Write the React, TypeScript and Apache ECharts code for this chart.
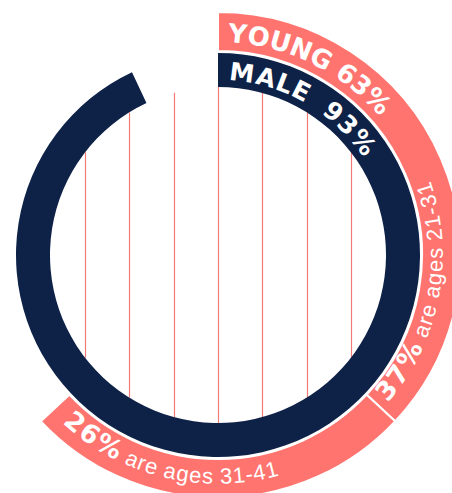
import React, { useEffect, useRef } from 'react';
import * as echarts from 'echarts';

// ---- data ----
const youngCategories = ['are ages 21-31', 'are ages 31-41'];
const youngValues = [37, 26];
const youngTotal = 63;
const maleValue = 93;
const gridLineOffsets = [-133, -89, -44, 0, 44, 89, 133];

// ---- style ----
const CORAL = '#FF746F';
const NAVY = '#0E2248';
const LINE = '#F47A78';
const CX = 218;
const CY = 255;
const R_INNER = 168;

type Seg = { text: string; size: number; bold: boolean; family: string };

let measureCtx: CanvasRenderingContext2D | null = null;
function fontOf(s: Seg) {
  return `${s.bold ? 'bold ' : ''}${s.size}px "${s.family}"`;
}
function measure(ch: string, s: Seg) {
  if (!measureCtx) measureCtx = document.createElement('canvas').getContext('2d');
  if (!measureCtx) return s.size * 0.6;
  measureCtx.font = fontOf(s);
  return measureCtx.measureText(ch).width;
}

function arcText(segs: Seg[], startDeg: number, endDeg: number, baseR: number, inward: boolean) {
  const chars: { ch: string; w: number; seg: Seg }[] = [];
  segs.forEach((seg) => {
    for (const ch of seg.text) chars.push({ ch, w: measure(ch, seg), seg });
  });
  const total = chars.reduce((a, c) => a + c.w, 0);
  let cum = 0;
  const els: any[] = [];
  chars.forEach((c) => {
    const frac = (cum + c.w / 2) / total;
    cum += c.w;
    if (c.ch === ' ') return;
    const deg = startDeg + (endDeg - startDeg) * frac;
    const th = (deg * Math.PI) / 180;
    const off = 0.35 * c.seg.size;
    const r = inward ? baseR - off : baseR + off;
    els.push({
      type: 'text',
      x: CX + r * Math.sin(th),
      y: CY - r * Math.cos(th),
      rotation: inward ? Math.PI - th : -th,
      silent: true,
      z: 10,
      style: {
        text: c.ch,
        fill: '#ffffff',
        fontSize: c.seg.size,
        fontFamily: c.seg.family,
        fontWeight: c.seg.bold ? 'bold' : 'normal',
        align: 'center',
        verticalAlign: 'middle',
        textAlign: 'center',
        textVerticalAlign: 'middle',
      },
    });
  });
  return els;
}

export default function App() {
  const ref = useRef<HTMLDivElement>(null);
  useEffect(() => {
    if (!ref.current) return;
    const chart = echarts.init(ref.current, null, { renderer: 'svg' });

    const boldF = 'DejaVu Sans';
    const regF = 'Liberation Sans';
    const graphics = [
      ...arcText([{ text: `YOUNG ${youngTotal}%`, size: 26, bold: true, family: boldF }], 2.6, 49.5, 213, false),
      ...arcText([{ text: `MALE  ${maleValue}%`, size: 25, bold: true, family: boldF }], 3.2, 56.5, 175, false),
      ...arcText(
        [
          { text: `${youngValues[0]}%`, size: 26, bold: true, family: boldF },
          { text: ` ${youngCategories[0]}`, size: 22, bold: false, family: regF },
        ],
        131.3,
        70.5,
        225,
        true
      ),
      ...arcText(
        [
          { text: `${youngValues[1]}%`, size: 26, bold: true, family: boldF },
          { text: ` ${youngCategories[1]}`, size: 22, bold: false, family: regF },
        ],
        223,
        164.3,
        229,
        true
      ),
    ];

    const youngData = [
      ...youngValues.map((v, i) => ({
        value: v,
        name: youngCategories[i],
        itemStyle: { color: CORAL, borderColor: '#ffffff', borderWidth: 2 },
      })),
      { value: 100 - youngTotal, name: 'rest', itemStyle: { color: 'rgba(0,0,0,0)', borderWidth: 0 } },
    ];
    const maleData = [
      { value: maleValue, name: 'male', itemStyle: { color: NAVY } },
      { value: 100 - maleValue, name: 'other', itemStyle: { color: 'rgba(0,0,0,0)' } },
    ];

    chart.setOption({
      animation: false,
      backgroundColor: '#ffffff',
      grid: { left: CX - R_INNER, top: CY - R_INNER, width: R_INNER * 2, height: R_INNER * 2 },
      xAxis: { type: 'value', min: -R_INNER, max: R_INNER, show: false },
      yAxis: { type: 'value', min: -R_INNER, max: R_INNER, show: false },
      series: [
        {
          type: 'custom',
          coordinateSystem: 'cartesian2d',
          silent: true,
          data: gridLineOffsets.map((v) => [v, 0]),
          renderItem: (params: any, api: any) => {
            const x = api.value(0);
            const h = Math.sqrt(R_INNER * R_INNER - x * x);
            const p1 = api.coord([x, h]);
            const p2 = api.coord([x, -h]);
            return {
              type: 'line',
              shape: { x1: Math.round(p1[0]) + 0.5, y1: p1[1], x2: Math.round(p2[0]) + 0.5, y2: p2[1] },
              style: { stroke: LINE, lineWidth: 1.2 },
            };
          },
        },
        {
          type: 'pie',
          center: [CX, CY],
          radius: [204, 243],
          startAngle: 90,
          clockwise: true,
          silent: true,
          label: { show: false },
          labelLine: { show: false },
          emphasis: { disabled: true },
          data: youngData,
        },
        {
          type: 'pie',
          center: [CX, CY],
          radius: [R_INNER, 202],
          startAngle: 90,
          clockwise: true,
          silent: true,
          label: { show: false },
          labelLine: { show: false },
          emphasis: { disabled: true },
          data: maleData,
        },
      ],
      graphic: { elements: graphics },
    });
    return () => chart.dispose();
  }, []);
  return <div ref={ref} style={{ position: 'fixed', left: 0, top: 0, width: 452, height: 493 }} />;
}
